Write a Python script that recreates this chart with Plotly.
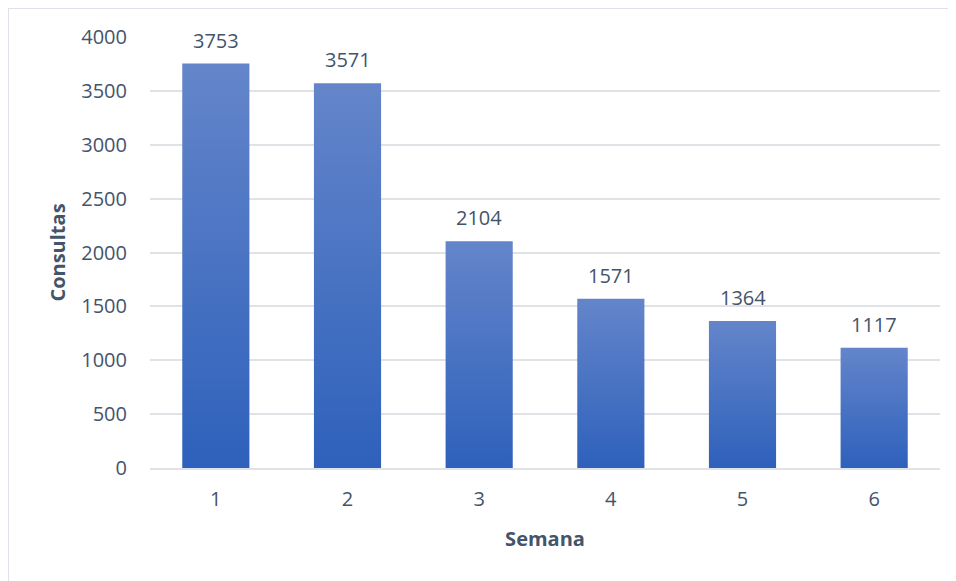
import plotly.graph_objects as go

semanas = [1, 2, 3, 4, 5, 6]
consultas = [3753, 3571, 2104, 1571, 1364, 1117]
y_ticks = [0, 500, 1000, 1500, 2000, 2500, 3000, 3500, 4000]

TEXT = "#44546a"
FONT = "Open Sans"
HALF = 0.255

fig = go.Figure()
for s, v in zip(semanas, consultas):
    fig.add_trace(go.Scatter(
        x=[s - HALF, s + HALF, s + HALF, s - HALF, s - HALF],
        y=[0, 0, v, v, 0],
        mode="lines", line=dict(width=0), fill="toself",
        fillgradient=dict(type="vertical",
                          colorscale=[[0, "#2e61bb"], [1, "#6485ca"]]),
        hoverinfo="text", text=f"Semana {s}: {v}", showlegend=False,
    ))

for s, v in zip(semanas, consultas):
    fig.add_annotation(x=s, y=v, text=str(v), showarrow=False,
                       yanchor="bottom", yshift=8,
                       font=dict(family=FONT, size=20, color=TEXT))

L, R, T, B = 142, 24, 29, 121
PW, PH = 956 - L - R, 581 - T - B
fig.add_shape(type="rect", xref="paper", yref="paper",
              x0=-L / PW, x1=1 + R / PW + 0.05, y0=-B / PH - 0.05, y1=1 + T / PH,
              line=dict(color="#dde2e9", width=2), layer="below")

fig.update_layout(
    width=956, height=581,
    margin=dict(l=L, r=R, t=T, b=B),
    paper_bgcolor="white", plot_bgcolor="white",
    font=dict(family=FONT, size=20, color=TEXT),
    xaxis=dict(range=[0.5, 6.5], tickmode="array", tickvals=semanas,
               ticktext=[str(s) for s in semanas], showgrid=False,
               zeroline=False, showline=True, linecolor="#dfe3e8", linewidth=2,
               ticks="", ticklabelstandoff=12,
               title=dict(text="<b>Semana</b>", standoff=21,
                          font=dict(family=FONT, size=20, color=TEXT))),
    yaxis=dict(range=[0, 4000], tickvals=y_ticks, showgrid=True,
               gridcolor="#dfe3e8", gridwidth=2, zeroline=False,
               showline=False, ticks="", ticklabelstandoff=22,
               title=dict(text="<b>Consultas</b>", standoff=10,
                          font=dict(family=FONT, size=20, color=TEXT))),
)

fig.write_html("out.html")
